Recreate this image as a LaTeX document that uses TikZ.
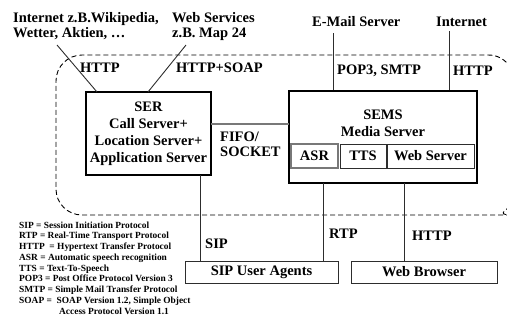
\documentclass[tikz,border=0pt]{standalone}
\usepackage{fontspec}
\setmainfont{Liberation Serif}
\usetikzlibrary{calc}
\definecolor{lineC}{RGB}{45,45,45}
\definecolor{grayC}{RGB}{120,120,120}
\begin{document}
\begin{tikzpicture}[x=1pt,y=-1pt,
  lbl/.style={font=\fontsize{14.5}{15}\selectfont\bfseries, inner sep=0pt, anchor=west, align=left},
  bigbox/.style={draw=black, line width=2pt, inner sep=0pt, font=\fontsize{14.5}{17}\selectfont\bfseries, align=center},
  thinbox/.style={draw=lineC, line width=1pt, inner sep=0pt, font=\fontsize{14.5}{17}\selectfont\bfseries, align=center},
  conn/.style={draw=lineC, line width=0.9pt},
  region/.style={draw=black, line width=0.9pt, dash pattern=on 5pt off 3pt}
]
\useasboundingbox (0,0) rectangle (507,322);
\begin{scope}
\clip (0,0) rectangle (507,322);
\draw[region] (512,68) .. controls (504,59) and (498,55) .. (488,55)
  [rounded corners=26] -- (56,55) -- (56,215) -- (488,215) [sharp corners]
  .. controls (497,215) and (503,212) .. (512,205);
\end{scope}

% boxes
\node[bigbox, minimum width=125pt, minimum height=83pt] (ser) at (148.5,133.5)
  {SER\\Call Server+\\Location Server+\\Application Server};
\node[bigbox, minimum width=188pt, minimum height=92pt] (sems) at (383,137) {};
\node[lbl, anchor=center, align=center, font=\fontsize{14.5}{17}\selectfont\bfseries] (semstxt) at (383,123.5) {SEMS\\Media Server};
\node[thinbox, draw=grayC, line width=1.5pt, minimum width=47pt, minimum height=24pt] (asr) at (314.5,156) {ASR};
\node[thinbox, minimum width=46pt, minimum height=24pt] (tts) at (363,156) {TTS};
\node[thinbox, minimum width=87pt, minimum height=24pt] (web) at (430.5,156) {Web Server};
\node[thinbox, minimum width=153pt, minimum height=22pt] (sipua) at (261.5,272) {SIP User Agents};
\node[thinbox, minimum width=146pt, minimum height=22pt] (wb) at (424,272) {Web Browser};

% top texts
\node[lbl] (inet1) at (13,26.5) {Internet z.B.Wikipedia,\\Wetter, Aktien, …};
\node[lbl] (ws) at (172,26.5) {Web Services\\z.B. Map 24};
\node[lbl] (email) at (312,22) {E-Mail Server};
\node[lbl] (inet2) at (436,22) {Internet};

% connector labels
\node[lbl] (l1) at (80,68) {HTTP};
\node[lbl] (l2) at (176,68) {HTTP+SOAP};
\node[lbl] (l3) at (337,71) {POP3, SMTP};
\node[lbl] (l4) at (453,71) {HTTP};
\node[lbl] (l5) at (220,144.5) {FIFO/\\SOCKET};
\node[lbl] (l6) at (205,244) {SIP};
\node[lbl] (l7) at (329,234) {RTP};
\node[lbl] (l8) at (412,236) {HTTP};

% connector end points
\coordinate (c1) at (57,45);
\coordinate (c2) at (186,45);
\coordinate (c3) at (333,33);
\coordinate (c4) at (449,31);
\coordinate (s1) at (97,92);
\coordinate (s2) at (148,92);
\coordinate (f1) at (211,124);
\coordinate (f2) at (289,124);
\coordinate (d1) at (200,175);
\coordinate (d2) at (200,261);
\coordinate (r1) at (323,183);
\coordinate (r2) at (323,261);
\coordinate (h1) at (404,183);
\coordinate (h2) at (404,261);

\draw[conn] (c1) -- (s1);
\draw[conn] (c2) -- (s2);
\draw[conn] (c3) -- (c3 |- sems.north);
\draw[conn] (c4) -- (c4 |- sems.north);
\draw[draw=grayC, line width=1.5pt] (f1) -- (f2);
\draw[conn] (d1) -- (d2);
\draw[conn] (r1) -- (r2);
\draw[conn] (h1) -- (h2);

% legend
\node[inner sep=0pt, anchor=north west, align=left, font=\fontsize{9.4}{10.75}\selectfont\bfseries] (legend) at (19,221.5)
{SIP = Session Initiation Protocol\\
RTP = Real-Time Transport Protocol\\
HTTP \ = Hypertext Transfer Protocol\\
ASR = Automatic speech recognition\\
TTS = Text-To-Speech\\
POP3 = Post Office Protocol Version 3\\
SMTP = Simple Mail Transfer Protocol\\
SOAP = \ SOAP Version 1.2, Simple Object\\
\hspace*{40pt}Access Protocol Version 1.1};
\end{tikzpicture}
\end{document}
